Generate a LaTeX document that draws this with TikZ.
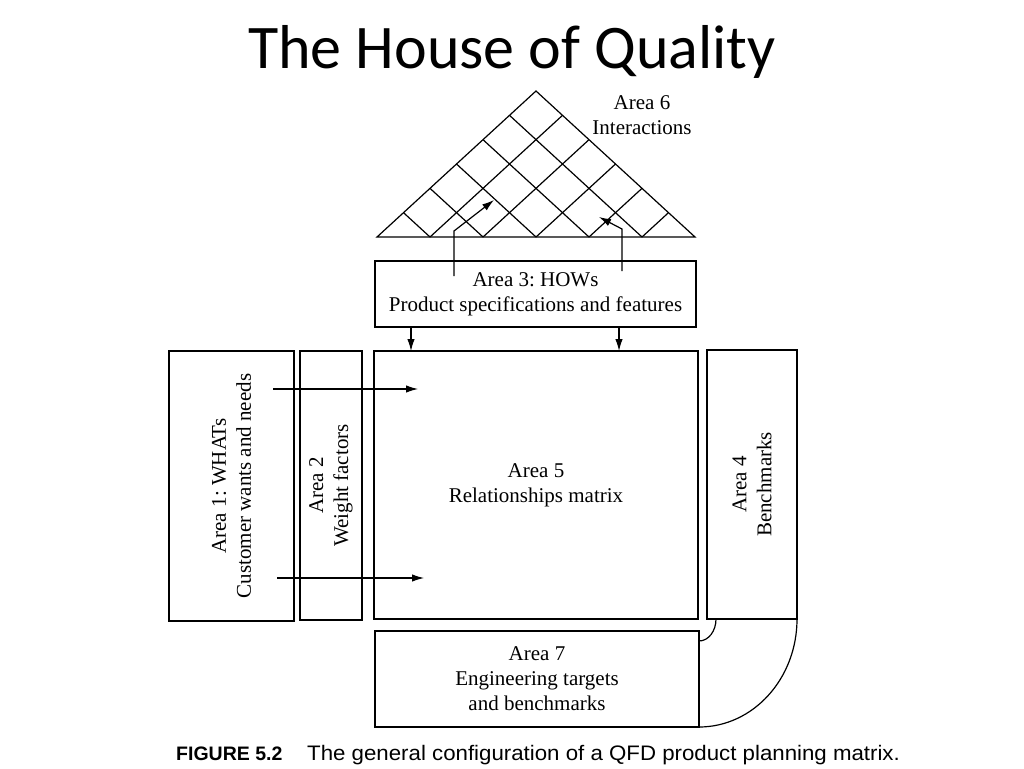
\documentclass[tikz,border=0pt]{standalone}
\usepackage{fontspec}
\setmainfont{Liberation Serif}
\newfontfamily\titlefont{Carlito}
\newfontfamily\capfont{Liberation Sans}
\usetikzlibrary{arrows.meta,calc}
\frenchspacing
\begin{document}
\begin{tikzpicture}[x=1pt,y=-1pt,
  box/.style={draw, line width=1.2pt, inner sep=0pt, outer sep=0pt},
  lbl/.style={align=center, font=\fontsize{21}{25}\selectfont, inner sep=0pt},
  arr/.style={line width=1.2pt, -{Latex[length=12pt,width=7.5pt]}},
  ln/.style={line width=1.2pt}]
\fill[white] (0,0) rectangle (1024,768);
\useasboundingbox (0,0) rectangle (1024,768);

% title
\node[anchor=base, font=\titlefont\fontsize{62}{62}\selectfont, inner sep=0pt] (title) at (512,68) {The House of Quality};

% roof (Area 6)
\coordinate (L) at (377,237);
\coordinate (R) at (695,237);
\coordinate (A) at (536,91);
\draw[ln, line join=miter] (L) -- (A) -- (R) -- cycle;
\foreach \k in {1,...,5} {
  \draw[ln] ($(L)!\k/6!(R)$) -- ($(A)!\k/6!(R)$);
  \draw[ln] ($(L)!\k/6!(R)$) -- ($(L)!\k/6!(A)$);
}
\node[lbl] (a6) at (642,115) {Area 6\\Interactions};

% boxes
\node[box, lbl, minimum width=321pt, minimum height=66pt] (a3) at (535.5,294)
  {Area 3: HOWs\\Product specifications and features};
\node[box, lbl, minimum width=324pt, minimum height=268pt] (a5) at (536,485)
  {Area 5\\Relationships matrix};
\node[box, lbl, minimum width=324pt, minimum height=96pt] (a7) at (537,679)
  {Area 7\\Engineering targets\\and benchmarks};
\node[box, minimum width=125pt, minimum height=270pt] (a1) at (231.5,486) {};
\node[lbl, rotate=90] (t1) at (a1) {Area 1: WHATs\\Customer wants and needs};
\node[box, minimum width=62pt, minimum height=269pt] (a2) at (331,485.5) {};
\node[lbl, rotate=90] (t2) at (a2) {Area 2\\Weight factors};
\node[box, minimum width=90pt, minimum height=269pt] (a4) at (752,484.5) {};
\node[lbl, rotate=90] (t4) at (a4) {Area 4\\Benchmarks};

% arrows from Area 3 into the roof
\coordinate (r1s) at (454,276);
\coordinate (r1b) at (454,231);
\coordinate (r1e) at (494,200);
\draw[arr] (r1s) -- (r1b) -- (r1e);
\coordinate (r2s) at (622,271);
\coordinate (r2b) at (622,229);
\coordinate (r2e) at (599,217);
\draw[arr] (r2s) -- (r2b) -- (r2e);

% arrows from Area 3 down to Area 5
\draw[arr] ([xshift=36pt]a3.south west) -- ([xshift=37pt]a5.north west);
\draw[arr] ([xshift=244pt]a3.south west) -- ([xshift=245pt]a5.north west);

% arrows from Area 1 into Area 5
\coordinate (h1s) at (273,389);
\coordinate (h1e) at (418,389);
\draw[arr] (h1s) -- (h1e);
\coordinate (h2s) at (277,578);
\coordinate (h2e) at (424,578);
\draw[arr] (h2s) -- (h2e);

% curves from Area 4 to Area 7
\draw[ln] ([xshift=9pt]a4.south west) arc[start angle=0, end angle=90, x radius=17, y radius=22];
\draw[ln] (a4.south east) arc[start angle=0, end angle=90, x radius=98, y radius=108];

% caption
\node[anchor=base west, font=\capfont\bfseries\fontsize{19.5}{20}\selectfont, inner sep=0pt] (capA) at (176,760) {FIGURE 5.2};
\node[anchor=base west, font=\capfont\fontsize{21}{22}\selectfont, inner sep=0pt, xscale=1.06] (capB) at (307,760) {The general configuration of a QFD product planning matrix.};
\end{tikzpicture}
\end{document}
